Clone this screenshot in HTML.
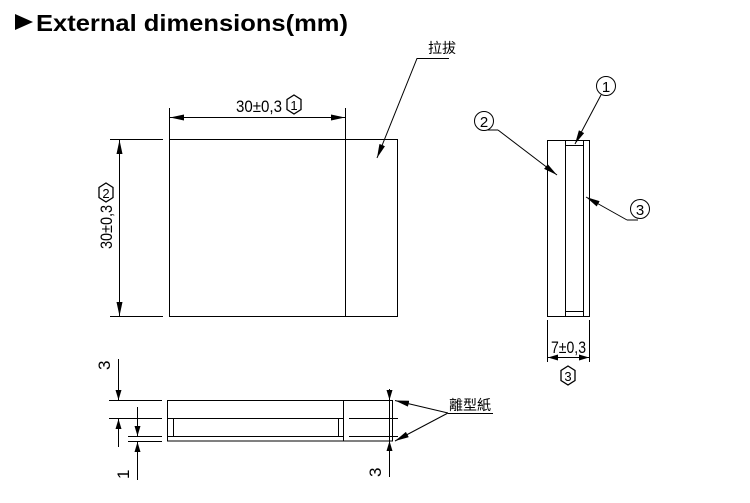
<!DOCTYPE html>
<html><head><meta charset="utf-8"><style>
html,body{margin:0;padding:0;background:#fff;width:750px;height:503px;overflow:hidden}
svg{display:block}
text{font-family:"Liberation Sans","Noto Sans CJK SC",sans-serif;fill:#000}
</style></head><body>
<svg width="750" height="503" viewBox="0 0 750 503" xmlns="http://www.w3.org/2000/svg">
<defs>
<marker id="a" viewBox="0 0 10 6" refX="10" refY="3" markerWidth="10" markerHeight="6" markerUnits="userSpaceOnUse" orient="auto-start-reverse"><path d="M0,0L10,3L0,6z" fill="#000"/></marker>
<marker id="b" viewBox="0 0 14 6" refX="14" refY="3" markerWidth="14" markerHeight="6" markerUnits="userSpaceOnUse" orient="auto-start-reverse"><path d="M0,0L14,3L0,6z" fill="#000"/></marker>
</defs>
<path d="M15,14L33,22L15,30z" fill="#000"/>
<text x="36" y="31" font-size="23" font-weight="bold" textLength="312" lengthAdjust="spacingAndGlyphs">External dimensions(mm)</text>
<g stroke="#000" stroke-width="1" fill="none">
<rect x="169.5" y="139.5" width="228" height="177"/>
<line x1="345.5" y1="139" x2="345.5" y2="317"/>
<line x1="169.5" y1="108" x2="169.5" y2="139"/>
<line x1="345.5" y1="108" x2="345.5" y2="139"/>
<line x1="170" y1="117.5" x2="345" y2="117.5" marker-start="url(#b)" marker-end="url(#b)"/>
<line x1="110" y1="139.5" x2="163" y2="139.5"/>
<line x1="110" y1="316.5" x2="163" y2="316.5"/>
<line x1="119.5" y1="140" x2="119.5" y2="316" marker-start="url(#b)" marker-end="url(#b)"/>
<polyline points="449,58.5 417,58.5 377,158" marker-end="url(#b)"/>
<polygon points="294,95 301,99.5 301,109.5 294,114 287,109.5 287,99.5" stroke-width="1.3"/>
<polygon points="106,183 113,187.5 113,197.5 106,202 99,197.5 99,187.5" stroke-width="1.3"/>
<rect x="547.5" y="140.5" width="42" height="176"/>
<line x1="565.5" y1="140" x2="565.5" y2="316"/>
<line x1="583.5" y1="140" x2="583.5" y2="316"/>
<line x1="566" y1="145.5" x2="583" y2="145.5"/>
<line x1="566" y1="311.5" x2="583" y2="311.5"/>
<circle cx="606" cy="86" r="9.5"/>
<circle cx="484" cy="121" r="9.5"/>
<circle cx="640" cy="209" r="9.5"/>
<line x1="601" y1="95" x2="575" y2="144" marker-end="url(#b)"/>
<line x1="487" y1="130" x2="498" y2="130"/>
<line x1="498" y1="130" x2="557" y2="175" marker-end="url(#b)"/>
<line x1="638" y1="220" x2="627" y2="220"/>
<line x1="627" y1="220" x2="586" y2="197" marker-end="url(#b)"/>
<line x1="547.5" y1="320" x2="547.5" y2="362"/>
<line x1="589.5" y1="320" x2="589.5" y2="362"/>
<line x1="548" y1="357.5" x2="589" y2="357.5" marker-start="url(#a)" marker-end="url(#a)"/>
<polygon points="568,366 575,370.5 575,380.5 568,385 561,380.5 561,370.5" stroke-width="1.3"/>
<rect x="167.5" y="400.5" width="225" height="40.5"/>
<line x1="343.5" y1="400" x2="343.5" y2="441"/>
<line x1="167" y1="418.5" x2="343" y2="418.5"/>
<line x1="167" y1="436.5" x2="343" y2="436.5"/>
<line x1="173.5" y1="418" x2="173.5" y2="436"/>
<line x1="338.5" y1="418" x2="338.5" y2="436"/>
<line x1="349" y1="418.5" x2="398" y2="418.5"/>
<line x1="349" y1="436.5" x2="398" y2="436.5"/>
<line x1="109" y1="400.5" x2="162" y2="400.5"/>
<line x1="109" y1="418.5" x2="162" y2="418.5"/>
<line x1="128" y1="436.5" x2="162" y2="436.5"/>
<line x1="128" y1="441.5" x2="162" y2="441.5"/>
<line x1="118.5" y1="359" x2="118.5" y2="400" marker-end="url(#a)"/>
<line x1="118.5" y1="447" x2="118.5" y2="419" marker-end="url(#a)"/>
<line x1="137.5" y1="407" x2="137.5" y2="436" marker-end="url(#a)"/>
<line x1="137.5" y1="480" x2="137.5" y2="442" marker-end="url(#a)"/>
<line x1="389.5" y1="389" x2="389.5" y2="400" marker-end="url(#a)"/>
<line x1="389.5" y1="477" x2="389.5" y2="441" marker-end="url(#a)"/>
<line x1="389.5" y1="400" x2="389.5" y2="441"/>
<line x1="448" y1="413" x2="395" y2="400.5" marker-end="url(#b)"/>
<line x1="448" y1="413" x2="395" y2="441" marker-end="url(#b)"/>
<line x1="448" y1="413.5" x2="493" y2="413.5"/>
</g>
<g font-size="17">
<text x="236" y="112" textLength="46" lengthAdjust="spacingAndGlyphs">30±0,3</text>
<text x="294" y="110" font-size="13" text-anchor="middle">1</text>
<text x="106" y="198" font-size="13" text-anchor="middle">2</text>
<text transform="translate(112,249) rotate(-90)" textLength="44" lengthAdjust="spacingAndGlyphs">30±0,3</text>
<text x="428" y="53" font-size="14">拉拔</text>
<text x="606" y="92" font-size="15" text-anchor="middle">1</text>
<text x="484" y="127" font-size="15" text-anchor="middle">2</text>
<text x="640" y="215" font-size="15" text-anchor="middle">3</text>
<text x="551" y="353" textLength="35" lengthAdjust="spacingAndGlyphs">7±0,3</text>
<text x="568" y="381" font-size="13" text-anchor="middle">3</text>
<text transform="translate(110,370) rotate(-90)">3</text>
<text transform="translate(129,479) rotate(-90)">1</text>
<text transform="translate(381,477) rotate(-90)">3</text>
<text x="449" y="410" font-size="14">離型紙</text>
</g>
</svg>
</body></html>
